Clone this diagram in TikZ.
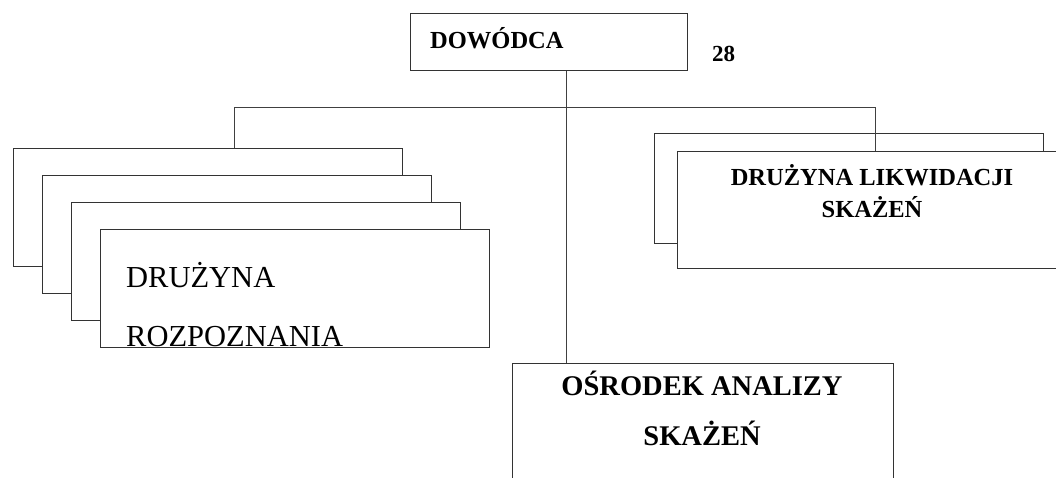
\documentclass[tikz,border=0pt]{standalone}
\usepackage{fontspec}
\setmainfont{Liberation Serif}
\tikzset{
  box/.style={draw=black!80, fill=white, line width=0.9pt, inner sep=0pt, anchor=north west},
  wire/.style={draw=black!75, line width=0.8pt},
  txt/.style={inner sep=0pt, anchor=base},
}
\begin{document}
\begin{tikzpicture}[x=1pt, y=-1pt]
  \useasboundingbox (0,0) rectangle (1056,477);
  \clip (0,0) rectangle (1056,477);
  % dowodca
  \node[box, minimum width=277pt, minimum height=57pt] (dow) at (410,13) {};
  \node[txt, anchor=base west, font=\fontsize{24.5}{28}\selectfont\bfseries] (dowtxt) at (430,48) {DOWÓDCA};
  \node[txt, anchor=base west, font=\fontsize{23}{26}\selectfont\bfseries] (nr) at (712,61) {28};
  % druzyny rozpoznania
  \foreach \i in {0,...,3}
    \node[box, minimum width=389pt, minimum height=118pt] (rozp\i) at ({13+29*\i},{148+27*\i}) {};
  \node[txt, anchor=base west, font=\fontsize{30.5}{34}\selectfont] (rozptxt1) at (126,287) {DRUŻYNA};
  \node[txt, anchor=base west, font=\fontsize{30.5}{34}\selectfont] (rozptxt2) at (126,346) {ROZPOZNANIA};
  % druzyny likwidacji
  \node[box, minimum width=389pt, minimum height=110pt] (likw0) at (654,133) {};
  \node[box, minimum width=420pt, minimum height=117pt] (likw1) at (677,151) {};
  \node[txt, font=\fontsize{24.5}{28}\selectfont\bfseries] (likwtxt1) at (872,185) {DRUŻYNA LIKWIDACJI};
  \node[txt, font=\fontsize{24.5}{28}\selectfont\bfseries] (likwtxt2) at (872,217) {SKAŻEŃ};
  % osrodek analizy
  \node[box, minimum width=381pt, minimum height=150pt] (osr) at (512,363) {};
  \node[txt, font=\fontsize{28.5}{32}\selectfont\bfseries] (osrtxt1) at (702,395) {OŚRODEK ANALIZY};
  \node[txt, font=\fontsize{28.5}{32}\selectfont\bfseries] (osrtxt2) at (702,445) {SKAŻEŃ};
  % polaczenia
  \coordinate (busL) at (234,107);
  \coordinate (busR) at (875,107);
  \draw[wire] (busL) -- (busR);
  \draw[wire] (busL) -- (busL |- rozp0.north);
  \draw[wire] (busR) -- (busR |- likw1.north);
  \draw[wire] (dow.south -| 566,0) -- (osr.north -| 566,0);
\end{tikzpicture}
\end{document}
